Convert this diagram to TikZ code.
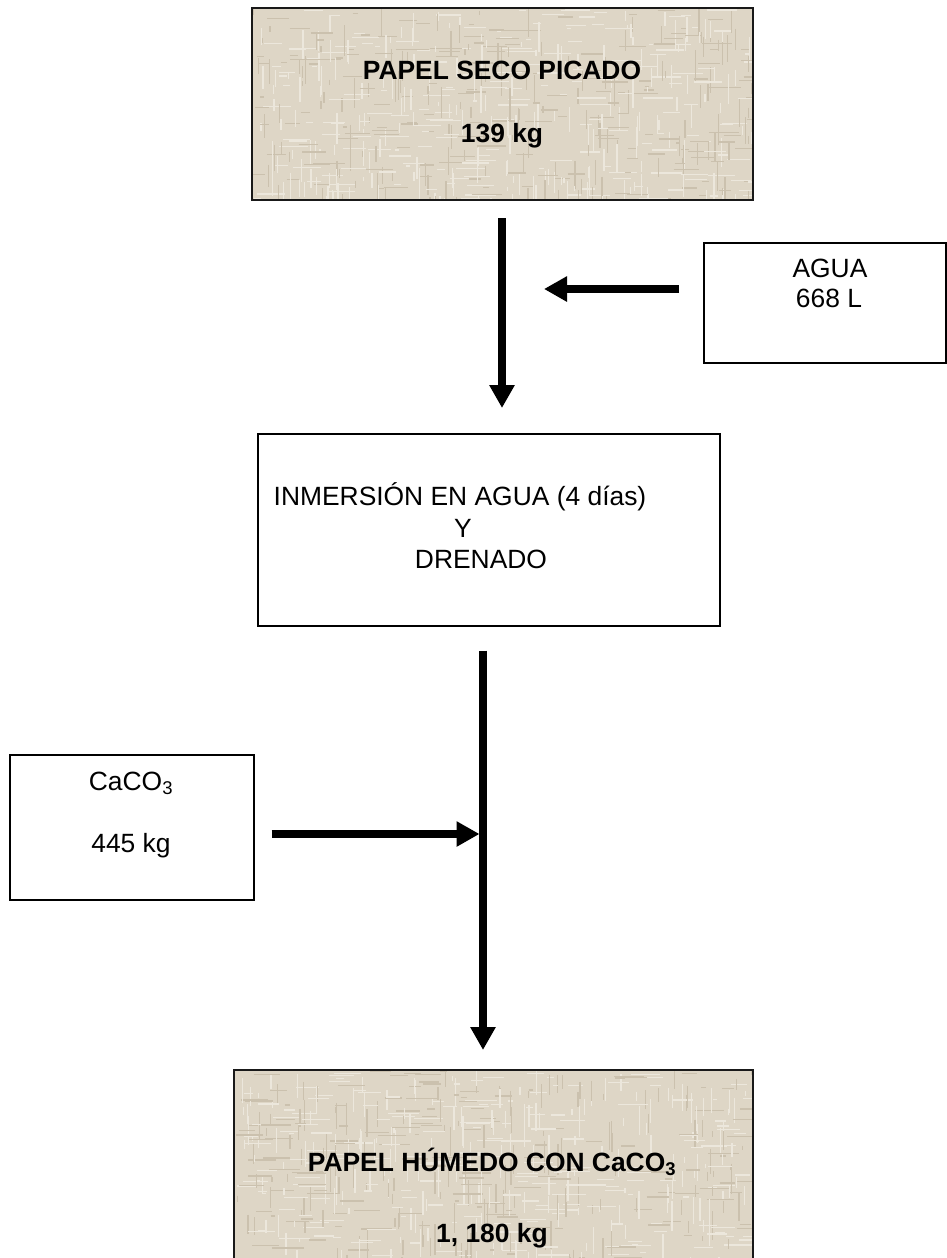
\documentclass[tikz,border=0pt]{standalone}
\usepackage{fontspec}
\setmainfont{Liberation Sans}
\usetikzlibrary{arrows.meta}

\definecolor{paper}{RGB}{222,214,198}
\definecolor{threadlight}{RGB}{236,231,220}
\definecolor{threaddark}{RGB}{203,193,174}

% woven paper texture clipped to a rectangle
\newcommand\weave[4]{%
  \begin{scope}
    \clip (#1,#2) rectangle (#3,#4);
    \fill[paper] (#1,#2) rectangle (#3,#4);
    \foreach \k in {1,...,700}{%
      \pgfmathsetmacro\px{#1+rnd*(#3-#1)}%
      \pgfmathsetmacro\py{#2+rnd*(#4-#2)}%
      \pgfmathsetmacro\len{4+rnd*28}%
      \pgfmathsetmacro\lw{0.6+rnd*1.2}%
      \pgfmathsetmacro\tone{rnd}%
      \ifdim\tone pt<0.55pt \def\col{threadlight}\else\def\col{threaddark}\fi
      \ifodd\k
        \draw[color=\col, line width=\lw] (\px,\py) -- ++(\len,0);
      \else
        \draw[color=\col, line width=\lw] (\px,\py) -- ++(0,\len);
      \fi
    }
  \end{scope}}

\tikzset{
  plainbox/.style={draw=black, line width=1.6pt, inner sep=0pt},
  paperbox/.style={draw=black!90, line width=2.2pt, inner sep=0pt},
  txt/.style={inner sep=0pt, anchor=base, font=\fontsize{26.4}{31}\selectfont},
  btxt/.style={txt, font=\fontsize{26.4}{31}\selectfont\bfseries},
  flow/.style={line width=7.5pt, -{Triangle[length=23pt,width=24pt]}}
}

\begin{document}
\begin{tikzpicture}[x=1pt, y=-1pt]
  \useasboundingbox (0,0) rectangle (946,1258);
  \pgfmathsetseed{11}

  % textured backgrounds of the two paper boxes
  \weave{251}{7}{752}{199}
  \weave{233}{1069}{752}{1260}

  % boxes
  \node[paperbox, minimum width=501pt, minimum height=192pt, anchor=north west] (seco) at (251,7) {};
  \node[plainbox, minimum width=242pt, minimum height=120pt, anchor=north west] (agua) at (703,242) {};
  \node[plainbox, minimum width=462pt, minimum height=192pt, anchor=north west] (inm) at (257,433) {};
  \node[plainbox, minimum width=244pt, minimum height=145pt, anchor=north west] (caco) at (9,754) {};
  \node[paperbox, minimum width=519pt, minimum height=190pt, anchor=north west] (hum) at (233,1069) {};

  % texts
  \node[btxt] (secoA) at (502,79) {PAPEL SECO PICADO};
  \node[btxt] (secoB) at (502,142) {139 kg};
  \node[txt] (aguaA) at (830,277) {AGUA};
  \node[txt] (aguaB) at (829,307) {668 L};
  \node[txt] (inmA) at (460,505) {INMERSIÓN EN AGUA (4 días)};
  \node[txt] (inmB) at (463,537) {Y};
  \node[txt] (inmC) at (481,568) {DRENADO};
  \node[txt] (cacoA) at (131,790) {CaCO\textsubscript{3}};
  \node[txt] (cacoB) at (131,852) {445 kg};
  \node[btxt] (humA) at (492,1171) {PAPEL HÚMEDO CON CaCO\textsubscript{3}};
  \node[btxt] (humB) at (492,1242) {1, 180 kg};

  % free ends and junction of the connectors
  \coordinate (aguaTip) at (544,289);
  \coordinate (join) at (483,834);

  % connectors
  \draw[flow, shorten <=17pt, shorten >=25pt] (seco.south -| secoA.base) -- (inm.north -| secoA.base);
  \draw[flow, shorten <=24pt] (agua.west |- aguaTip) -- (aguaTip);
  \draw[flow, shorten <=24pt, shorten >=19pt] (inm.south -| join) -- (hum.north -| join);
  \draw[flow, shorten <=17pt, shorten >=3.5pt] (caco.east |- join) -- (join);
\end{tikzpicture}
\end{document}
